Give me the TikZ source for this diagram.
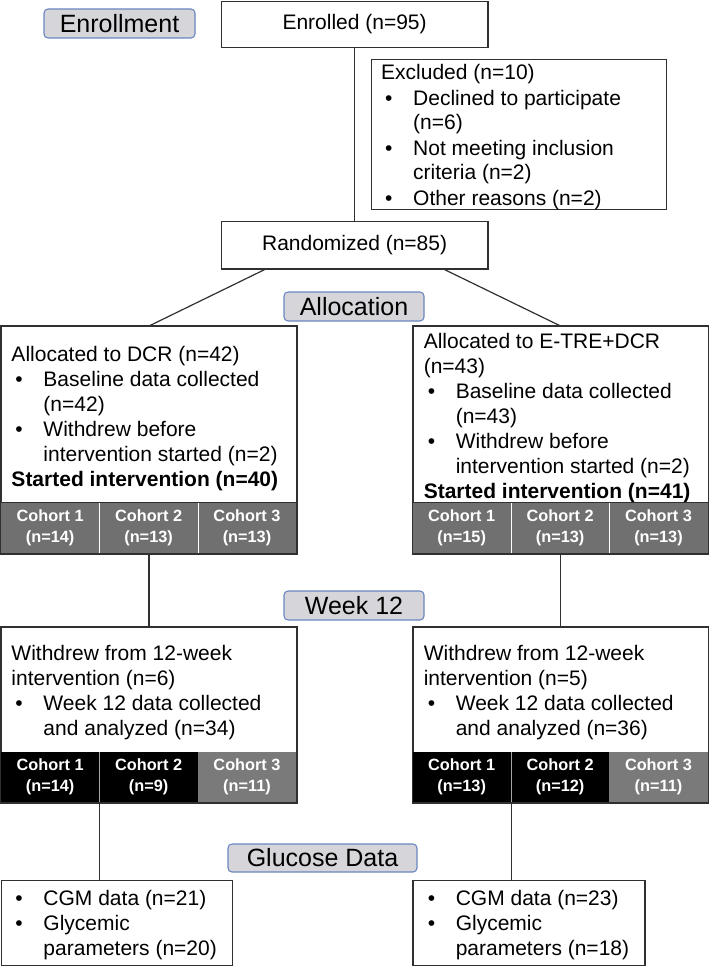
\documentclass[tikz,border=0pt]{standalone}
\usepackage{fontspec}
\setmainfont{Liberation Sans}
\usetikzlibrary{calc}
\definecolor{boxcol}{HTML}{303030}
\definecolor{labfill}{HTML}{D6D6DA}
\definecolor{labblue}{HTML}{6A86C0}
\definecolor{bandgray}{HTML}{707070}
\definecolor{bandgray2}{HTML}{7A7A7A}
\newcommand\bul{\makebox[32pt][l]{\hspace{4pt}\textbullet}}
\newcommand\ind{\hspace*{32pt}}
\begin{document}
\begin{tikzpicture}[x=1pt,y=-1pt,
  box/.style={draw=boxcol,line width=1.3pt,fill=white,inner sep=0pt,anchor=north west,
    font=\fontsize{21}{25}\selectfont},
  outline/.style={draw=boxcol,line width=1.3pt},
  lab/.style={draw=labblue,fill=labfill,rounded corners=4pt,line width=1.1pt,inner sep=0pt,
    font=\fontsize{25}{28}\selectfont},
  txt/.style={anchor=base west,inner sep=0pt,font=\fontsize{21}{25}\selectfont},
  cell/.style={anchor=north west,inner sep=0pt,draw=none,text=white,align=center,
    font=\fontsize{16.3}{21.3}\selectfont\bfseries},
  gcell/.style={cell,fill=bandgray},
  kcell/.style={cell,fill=black},
  g2cell/.style={cell,fill=bandgray2},
  sepw/.style={draw=white,line width=0.9pt},
  sepk/.style={draw=gray!70,line width=0.9pt},
  conn/.style={draw=boxcol,line width=1.2pt}
]
\useasboundingbox (0,0) rectangle (709,966);

% stage labels
\node[lab,minimum width=151pt,minimum height=29pt] (lenr) at (119.5,23.5) {Enrollment};
\node[lab,minimum width=140pt,minimum height=29pt] (lall) at (354,306.5) {Allocation};
\node[lab,minimum width=140pt,minimum height=29pt] (lw12) at (354,605.5) {Week 12};
\node[lab,minimum width=189pt,minimum height=28pt] (lglu) at (322.5,858) {Glucose Data};

% boxes
\node[box,minimum width=266.7pt,minimum height=46pt] (enr) at (220.6,0.7) {Enrolled (n=95)};
\node[box,minimum width=294.8pt,minimum height=150pt] (exc) at (370.7,59) {};
\node[box,minimum width=266.7pt,minimum height=47.3pt] (rand) at (220.6,221) {Randomized (n=85)};
\node[box,minimum width=295.3pt,minimum height=226.7pt] (dcr) at (0.7,326) {};
\node[box,minimum width=295.2pt,minimum height=226.7pt] (etre) at (412.3,326) {};
\node[box,minimum width=295.3pt,minimum height=175pt] (wl) at (0.7,626.7) {};
\node[box,minimum width=295.2pt,minimum height=175pt] (wr) at (412.3,626.7) {};
\node[box,minimum width=231.2pt,minimum height=85pt] (gl) at (0.7,880) {};
\node[box,minimum width=231.9pt,minimum height=85pt] (gr) at (412.3,880) {};

% texts
\node[txt] (texc) at (381,80) {\begin{tabular}[t]{@{}l@{}}
Excluded (n=10)\\
\bul Declined to participate\\
\ind (n=6)\\
\bul Not meeting inclusion\\
\ind criteria (n=2)\\
\bul Other reasons (n=2)
\end{tabular}};
\node[txt] (tdcr) at (11.3,361.7) {\begin{tabular}[t]{@{}l@{}}
Allocated to DCR (n=42)\\
\bul Baseline data collected\\
\ind (n=42)\\
\bul Withdrew before\\
\ind intervention started (n=2)\\
\textbf{Started intervention (n=40)}
\end{tabular}};
\node[txt] (tetre) at (423.6,348.3) {\begin{tabular}[t]{@{}l@{}}
Allocated to E-TRE+DCR\\
(n=43)\\
\bul Baseline data collected\\
\ind (n=43)\\
\bul Withdrew before\\
\ind intervention started (n=2)\\
\textbf{Started intervention (n=41)}
\end{tabular}};
\node[txt] (twl) at (11.3,660) {\begin{tabular}[t]{@{}l@{}}
Withdrew from 12-week\\
intervention (n=6)\\
\bul Week 12 data collected\\
\ind and analyzed (n=34)
\end{tabular}};
\node[txt] (twr) at (423.6,660) {\begin{tabular}[t]{@{}l@{}}
Withdrew from 12-week\\
intervention (n=5)\\
\bul Week 12 data collected\\
\ind and analyzed (n=36)
\end{tabular}};
\node[txt] (tgl) at (11.3,905) {\begin{tabular}[t]{@{}l@{}}
\bul CGM data (n=21)\\
\bul Glycemic\\
\ind parameters (n=20)
\end{tabular}};
\node[txt] (tgr) at (423.6,905) {\begin{tabular}[t]{@{}l@{}}
\bul CGM data (n=23)\\
\bul Glycemic\\
\ind parameters (n=18)
\end{tabular}};

% cohort bands: allocation
\node[gcell,minimum width=98.45pt,minimum height=50.4pt] (a1) at (0.7,502.3) {Cohort 1\\(n=14)};
\node[gcell,minimum width=98.45pt,minimum height=50.4pt] (a2) at (99.15,502.3) {Cohort 2\\(n=13)};
\node[gcell,minimum width=98.4pt,minimum height=50.4pt] (a3) at (197.6,502.3) {Cohort 3\\(n=13)};
\node[gcell,minimum width=98.4pt,minimum height=50.4pt] (b1) at (412.3,502.3) {Cohort 1\\(n=15)};
\node[gcell,minimum width=98.4pt,minimum height=50.4pt] (b2) at (510.7,502.3) {Cohort 2\\(n=13)};
\node[gcell,minimum width=98.4pt,minimum height=50.4pt] (b3) at (609.1,502.3) {Cohort 3\\(n=13)};
\draw[sepw] (a1.north east) -- (a1.south east);
\draw[sepw] (a2.north east) -- (a2.south east);
\draw[sepw] (b1.north east) -- (b1.south east);
\draw[sepw] (b2.north east) -- (b2.south east);
\draw[outline] (dcr.north west) rectangle (dcr.south east);
\draw[outline] (etre.north west) rectangle (etre.south east);
\draw[outline] (a1.north west) -- (a3.north east);
\draw[outline] (b1.north west) -- (b3.north east);

% cohort bands: week 12
\node[kcell,minimum width=98.45pt,minimum height=50pt] (c1) at (0.7,751.7) {Cohort 1\\(n=14)};
\node[kcell,minimum width=98.45pt,minimum height=50pt] (c2) at (99.15,751.7) {Cohort 2\\(n=9)};
\node[g2cell,minimum width=98.4pt,minimum height=50pt] (c3) at (197.6,751.7) {Cohort 3\\(n=11)};
\node[kcell,minimum width=98.4pt,minimum height=50pt] (d1) at (412.3,751.7) {Cohort 1\\(n=13)};
\node[kcell,minimum width=98.4pt,minimum height=50pt] (d2) at (510.7,751.7) {Cohort 2\\(n=12)};
\node[g2cell,minimum width=98.4pt,minimum height=50pt] (d3) at (609.1,751.7) {Cohort 3\\(n=11)};
\draw[sepk] (c1.north east) -- (c1.south east);
\draw[sepk] (d1.north east) -- (d1.south east);
\draw[outline] (wl.north west) rectangle (wl.south east);
\draw[outline] (wr.north west) rectangle (wr.south east);

% connectors
\draw[conn] (enr) -- (rand);
\draw[conn] ([xshift=44pt]rand.south west) -- (dcr.north);
\draw[conn] ([xshift=-44pt]rand.south east) -- (etre.north);
\draw[conn] (dcr.south) -- (wl.north);
\draw[conn] (etre.south) -- (wr.north);
\draw[conn] (c1.south east) -- (c1.south east |- gl.north);
\draw[conn] (d1.south east) -- (d1.south east |- gr.north);
\end{tikzpicture}
\end{document}
